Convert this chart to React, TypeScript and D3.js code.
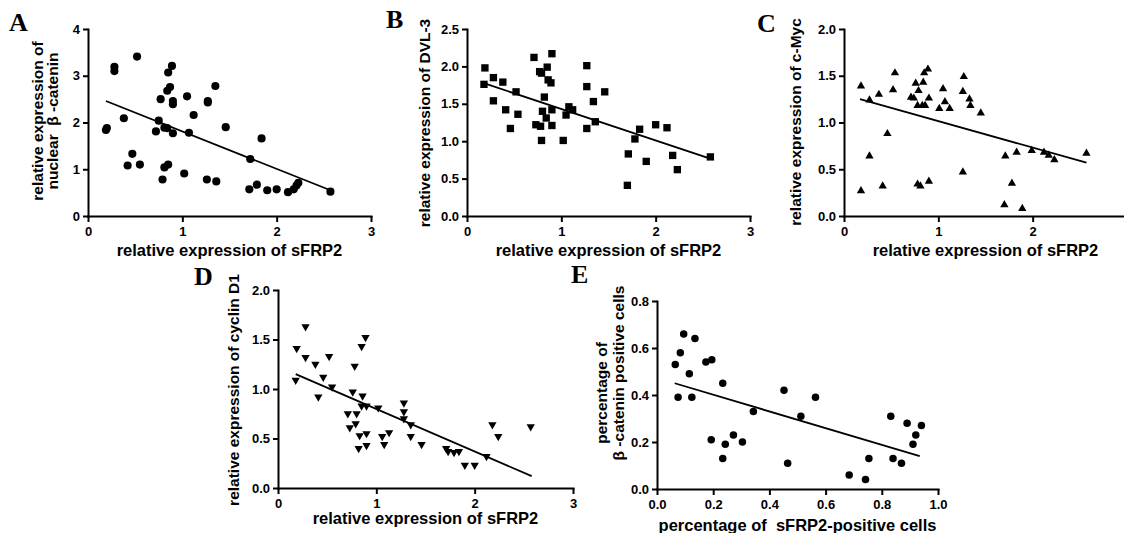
import React, { useEffect, useRef } from "react";
import * as d3 from "d3";

// values: relative expression of sFRP2 (x) vs target (y)
const sfrp2A = [0.20, 0.19, 0.28, 0.28, 0.38, 0.42, 0.47, 0.52, 0.55, 0.72, 0.75, 0.77, 0.79, 0.81, 0.81, 0.84, 0.85, 0.85, 0.84, 0.87, 0.89, 0.90, 0.90, 0.90, 1.02, 1.05, 1.07, 1.12, 1.27, 1.27, 1.26, 1.36, 1.35, 1.46, 1.72, 1.71, 1.79, 1.84, 1.90, 2.00, 2.12, 2.18, 2.21, 2.23, 2.57];
const betaCatenin = [1.88, 1.84, 3.19, 3.10, 2.09, 1.08, 1.33, 3.41, 1.10, 1.81, 2.04, 2.50, 0.78, 1.04, 1.89, 2.68, 3.07, 1.10, 1.88, 2.76, 3.21, 2.46, 2.39, 1.77, 0.91, 2.56, 1.78, 2.16, 2.46, 2.43, 0.78, 0.74, 2.78, 1.90, 1.22, 0.57, 0.67, 1.66, 0.55, 0.57, 0.51, 0.57, 0.65, 0.71, 0.52];
const fitA = [[0.19, 2.46], [2.57, 0.55]];

const sfrp2B = [0.19, 0.18, 0.28, 0.28, 0.38, 0.41, 0.46, 0.52, 0.54, 0.71, 0.73, 0.77, 0.79, 0.79, 0.78, 0.80, 0.82, 0.84, 0.85, 0.86, 0.89, 0.90, 0.90, 0.90, 1.02, 1.05, 1.08, 1.12, 1.27, 1.27, 1.27, 1.34, 1.36, 1.46, 1.71, 1.70, 1.78, 1.83, 1.90, 2.00, 2.12, 2.18, 2.23, 2.58];
const dvl3 = [1.98, 1.76, 1.85, 1.54, 1.79, 1.42, 1.17, 1.66, 1.36, 2.12, 1.22, 1.93, 1.91, 1.01, 1.20, 1.40, 1.59, 1.31, 1.99, 1.82, 1.78, 2.17, 1.21, 1.42, 1.01, 1.35, 1.46, 1.42, 2.01, 1.73, 1.17, 1.53, 1.26, 1.66, 0.83, 0.41, 1.03, 1.16, 0.73, 1.22, 1.18, 0.81, 0.62, 0.79];
const fitB = [[0.17, 1.78], [2.57, 0.77]];

const sfrp2C = [0.18, 0.18, 0.27, 0.27, 0.37, 0.41, 0.46, 0.52, 0.54, 0.71, 0.74, 0.76, 0.78, 0.79, 0.78, 0.81, 0.83, 0.84, 0.85, 0.89, 0.90, 0.90, 0.86, 1.01, 1.05, 1.07, 1.12, 1.27, 1.26, 1.26, 1.33, 1.34, 1.45, 1.71, 1.70, 1.78, 1.83, 1.89, 1.99, 2.12, 2.17, 2.23, 2.57];
const cMyc = [1.39, 0.27, 1.24, 0.64, 1.30, 0.32, 0.88, 1.35, 1.53, 1.27, 1.26, 1.42, 0.34, 1.34, 1.18, 0.32, 1.18, 1.43, 1.53, 1.57, 1.26, 0.37, 1.18, 1.15, 1.36, 1.22, 1.15, 1.49, 1.33, 0.47, 1.25, 1.18, 1.10, 0.64, 0.12, 0.35, 0.68, 0.08, 0.70, 0.68, 0.65, 0.60, 0.67];
const fitC = [[0.17, 1.25], [2.57, 0.57]];

const sfrp2D = [0.19, 0.18, 0.28, 0.28, 0.38, 0.41, 0.46, 0.52, 0.55, 0.71, 0.73, 0.76, 0.78, 0.79, 0.80, 0.82, 0.83, 0.85, 0.85, 0.86, 0.89, 0.90, 0.90, 0.90, 1.02, 1.06, 1.08, 1.13, 1.28, 1.28, 1.28, 1.35, 1.35, 1.46, 1.71, 1.73, 1.79, 1.84, 1.90, 2.00, 2.12, 2.18, 2.24, 2.57];
const cyclinD1 = [1.41, 1.09, 1.63, 1.32, 1.25, 0.92, 1.12, 1.33, 1.02, 0.75, 0.61, 0.97, 1.23, 0.65, 0.75, 0.40, 0.53, 1.43, 0.83, 0.93, 1.52, 0.55, 0.43, 0.83, 0.81, 0.52, 0.44, 0.56, 0.86, 0.77, 0.70, 0.64, 0.52, 0.44, 0.40, 0.37, 0.36, 0.37, 0.23, 0.23, 0.32, 0.64, 0.52, 0.62];
const fitD = [[0.18, 1.15], [2.58, 0.12]];

const sfrp2Cells = [0.065, 0.075, 0.083, 0.095, 0.115, 0.124, 0.135, 0.174, 0.195, 0.193, 0.234, 0.234, 0.243, 0.272, 0.304, 0.343, 0.452, 0.465, 0.512, 0.564, 0.684, 0.742, 0.754, 0.832, 0.840, 0.870, 0.890, 0.911, 0.921, 0.941];
const cateninCells = [0.53, 0.39, 0.58, 0.66, 0.49, 0.39, 0.64, 0.54, 0.55, 0.21, 0.45, 0.13, 0.19, 0.23, 0.20, 0.33, 0.42, 0.11, 0.31, 0.39, 0.06, 0.04, 0.13, 0.31, 0.13, 0.11, 0.28, 0.19, 0.23, 0.27];
const fitE = [[0.063, 0.45], [0.935, 0.14]];

const expTicks = [0, 1, 2, 3];
const ticksA = [0, 1, 2, 3, 4];
const ticksB = [0, 0.5, 1, 1.5, 2, 2.5];
const ticksCD = [0, 0.5, 1, 1.5, 2];
const pctTicks = [0, 0.2, 0.4, 0.6, 0.8];
const pctXTicks = [0, 0.2, 0.4, 0.6, 0.8, 1];

const xTitle = "relative expression of sFRP2";

const panels = [
  { letter: "A", xs: sfrp2A, ys: betaCatenin, fit: fitA, marker: "circle", xTicks: expTicks, yTicks: ticksA, xFmt: "d", yFmt: "d",
    xTitle, yTitle: ["relative expression of", "nuclear  β -catenin"] },
  { letter: "B", xs: sfrp2B, ys: dvl3, fit: fitB, marker: "square", xTicks: expTicks, yTicks: ticksB, xFmt: "d", yFmt: ".1f",
    xTitle, yTitle: ["relative expression of DVL-3"] },
  { letter: "C", xs: sfrp2C, ys: cMyc, fit: fitC, marker: "up", xTicks: expTicks, yTicks: ticksCD, xFmt: "d", yFmt: ".1f",
    xTitle, yTitle: ["relative expression of c-Myc"] },
  { letter: "D", xs: sfrp2D, ys: cyclinD1, fit: fitD, marker: "down", xTicks: expTicks, yTicks: ticksCD, xFmt: "d", yFmt: ".1f",
    xTitle, yTitle: ["relative expression of cyclin D1"] },
  { letter: "E", xs: sfrp2Cells, ys: cateninCells, fit: fitE, marker: "circle", xTicks: pctXTicks, yTicks: pctTicks, xFmt: ".1f", yFmt: ".1f",
    xTitle: "percentage of  sFRP2-positive cells", yTitle: ["percentage of", "β -catenin positive cells"] },
];

// plot boxes in page pixels
const layout = [
  { left: 88, right: 371, top: 29, bottom: 216, lx: 9, ly: 31, tx: [43, 58], ty: [121, 121], xt: 256 },
  { left: 467, right: 750, top: 29, bottom: 216, lx: 386, ly: 28, tx: [430], ty: [123], xt: 256 },
  { left: 844, right: 1127, top: 29, bottom: 216, lx: 757, ly: 32, tx: [801], ty: [122], xt: 256 },
  { left: 278, right: 573, top: 290, bottom: 488, lx: 194, ly: 285, tx: [239], ty: [390], xt: 524 },
  { left: 657, right: 938, top: 301, bottom: 489, lx: 571, ly: 283, tx: [607, 624], ty: [393, 373], xt: 531 },
];

const SANS = "'Liberation Sans', Arial, sans-serif";

export default function App() {
  const ref = useRef<SVGSVGElement>(null);

  useEffect(() => {
    const svg = d3.select(ref.current);
    svg.selectAll("*").remove();

    panels.forEach((p, i) => {
      const b = layout[i];
      const x = d3.scaleLinear().domain([p.xTicks[0], p.xTicks[p.xTicks.length - 1]]).range([b.left, b.right]);
      const y = d3.scaleLinear().domain([p.yTicks[0], p.yTicks[p.yTicks.length - 1]]).range([b.bottom, b.top]);
      const g = svg.append("g");

      const xAxis = g.append("g")
        .attr("transform", `translate(0,${b.bottom})`)
        .call(d3.axisBottom(x).tickValues(p.xTicks).tickFormat(d3.format(p.xFmt) as any).tickSize(6).tickSizeOuter(0).tickPadding(5));
      const yAxis = g.append("g")
        .attr("transform", `translate(${b.left},0)`)
        .call(d3.axisLeft(y).tickValues(p.yTicks).tickFormat(d3.format(p.yFmt) as any).tickSize(5).tickSizeOuter(0).tickPadding(3));

      [xAxis, yAxis].forEach(a => {
        a.select(".domain").attr("stroke", "#000").attr("stroke-width", 2).attr("stroke-linecap", "square");
        a.selectAll(".tick line").attr("stroke", "#000").attr("stroke-width", 2);
        a.selectAll(".tick text")
          .attr("fill", "#000")
          .style("font-family", SANS)
          .style("font-weight", "bold")
          .style("font-size", "13px");
      });

      // regression line
      g.append("path")
        .datum(p.fit)
        .attr("fill", "none")
        .attr("stroke", "#000")
        .attr("stroke-width", 1.8)
        .attr("d", d3.line().x(d => x(d[0])).y(d => y(d[1])) as any);

      const symType = p.marker === "circle" ? d3.symbolCircle : p.marker === "square" ? d3.symbolSquare : d3.symbolTriangle;
      const symSize = p.marker === "circle" ? (p.letter === "E" ? 44 : 52) : p.marker === "square" ? 54 : 30;
      const sym = d3.symbol().type(symType).size(symSize);

      g.append("g")
        .selectAll("path")
        .data(p.xs.map((v, k) => [v, p.ys[k]]))
        .enter().append("path")
        .attr("d", sym as any)
        .attr("fill", "#000")
        .attr("transform", d => `translate(${x(d[0])},${y(d[1])})` + (p.marker === "down" ? " rotate(180)" : ""));

      // axis titles
      g.append("text")
        .attr("x", (b.left + b.right) / 2)
        .attr("y", b.xt)
        .attr("text-anchor", "middle")
        .style("font-family", SANS)
        .style("font-weight", "bold")
        .style("font-size", "16.5px")
        .style("white-space", "pre")
        .text(p.xTitle);

      p.yTitle.forEach((t, k) => {
        g.append("text")
          .attr("transform", `translate(${b.tx[k]},${b.ty[k]}) rotate(-90)`)
          .attr("text-anchor", "middle")
          .style("font-family", SANS)
          .style("font-weight", "bold")
          .style("font-size", "15.5px")
          .style("white-space", "pre")
          .text(t);
      });

      g.append("text")
        .attr("x", b.lx)
        .attr("y", b.ly)
        .style("font-family", "'Liberation Serif', 'Times New Roman', serif")
        .style("font-weight", "bold")
        .style("font-size", "26px")
        .text(p.letter);
    });
  }, []);

  return (
    <svg ref={ref} width={1124} height={533}
      style={{ position: "absolute", left: 0, top: 0, background: "#fff" }} />
  );
}
